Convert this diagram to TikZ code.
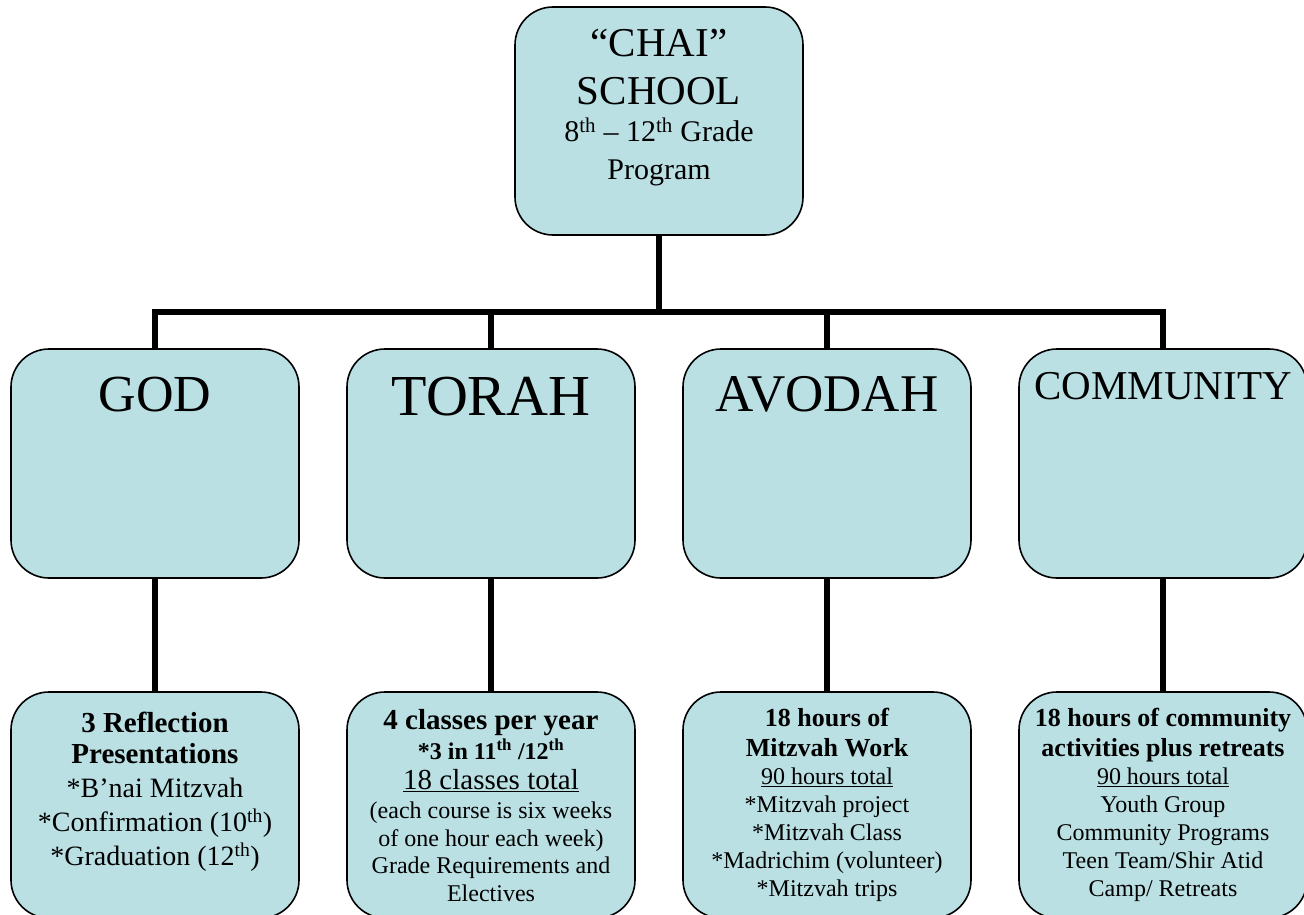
\documentclass[tikz,border=0pt]{standalone}
\usepackage{fontspec}
\setmainfont{Liberation Serif}
\definecolor{cardblue}{RGB}{186,224,227}
\begin{document}
\begin{tikzpicture}[x=1pt,y=-1pt,
  card/.style={draw=black, line width=1.6pt, fill=cardblue, rounded corners=38pt,
    inner sep=0pt, minimum width=288pt},
  midcard/.style={card, minimum height=229pt},
  subcard/.style={card, minimum height=226pt},
  conn/.style={draw=black, line width=5.5pt},
  txt/.style={inner sep=0pt, align=center, text=black, anchor=base}]
\useasboundingbox (0,0) rectangle (1304,915);

% boxes
\node[card, minimum height=228pt] (chai) at (659,121) {};
\node[midcard] (god) at (155,463.5) {};
\node[midcard] (torah) at (491,463.5) {};
\node[midcard] (avodah) at (827,463.5) {};
\node[midcard] (community) at (1163,463.5) {};
\node[subcard] (godsub) at (155,805) {};
\node[subcard] (torahsub) at (491,805) {};
\node[subcard] (avodahsub) at (827,805) {};
\node[subcard] (communitysub) at (1163,805) {};

% connectors
\coordinate (bus) at (659,312);
\foreach \n in {god,torah,avodah,community}{
  \draw[conn] (chai.south) -- (chai.south |- bus) -| (\n.north);
  \draw[conn] (\n.south) -- (\n sub.north);
}

% texts (multi-line nodes: base anchor = baseline of the last line)
\node[txt, font=\fontsize{30}{37.5}\selectfont] (chaitext) at ([yshift=-173pt]chai.north)
  {{\fontsize{41}{41}\selectfont “CHAI”}\\[10.5pt]
   {\fontsize{41}{41}\selectfont SCHOOL}\\
   8\textsuperscript{th} -- 12\textsuperscript{th} Grade\\
   Program};

\node[txt, font=\fontsize{52}{52}\selectfont] (godtext) at ([yshift=-63pt]god.north) {GOD};
\node[txt, font=\fontsize{58}{58}\selectfont] (torahtext) at ([yshift=-67pt]torah.north) {TORAH};
\node[txt, font=\fontsize{53}{53}\selectfont] (avodahtext) at ([yshift=-63pt]avodah.north) {AVODAH};
\node[txt, font=\fontsize{41}{41}\selectfont] (communitytext) at ([yshift=-51pt]community.north) {COMMUNITY};

\node[txt, font=\fontsize{28}{34}\selectfont] (godsubtext) at ([yshift=-174pt]godsub.north)
  {{\bfseries\fontsize{29}{34}\selectfont 3 Reflection}\\[-3pt]
   {\bfseries\fontsize{29}{34}\selectfont Presentations}\\
   *B’nai Mitzvah\\
   *Confirmation (10\textsuperscript{th})\\
   *Graduation (12\textsuperscript{th})};

\node[txt, font=\fontsize{24}{27.5}\selectfont] (torahsubtext) at ([yshift=-210pt]torahsub.north)
  {{\bfseries\fontsize{29}{30}\selectfont 4 classes per year}\\[2.5pt]
   {\bfseries\fontsize{24}{24}\selectfont *3 in 11\textsuperscript{th} /12\textsuperscript{th}}\\[2.5pt]
   {\fontsize{29}{30}\selectfont\underline{18 classes total}}\\[2pt]
   (each course is six weeks\\
   of one hour each week)\\
   Grade Requirements and\\
   Electives};

\node[txt, font=\fontsize{24}{28}\selectfont] (avodahsubtext) at ([yshift=-205pt]avodahsub.north)
  {{\bfseries\fontsize{26}{28}\selectfont 18 hours of}\\[1.5pt]
   {\bfseries\fontsize{26}{28}\selectfont Mitzvah Work}\\
   \underline{90 hours total}\\
   *Mitzvah project\\
   *Mitzvah Class\\
   *Madrichim (volunteer)\\
   *Mitzvah trips};

\node[txt, font=\fontsize{24}{28}\selectfont] (communitysubtext) at ([yshift=-205pt]communitysub.north)
  {{\bfseries\fontsize{26}{28}\selectfont 18 hours of community}\\[1.5pt]
   {\bfseries\fontsize{26}{28}\selectfont activities plus retreats}\\
   \underline{90 hours total}\\
   Youth Group\\
   Community Programs\\
   Teen Team/Shir Atid\\
   Camp/ Retreats};
\end{tikzpicture}
\end{document}
